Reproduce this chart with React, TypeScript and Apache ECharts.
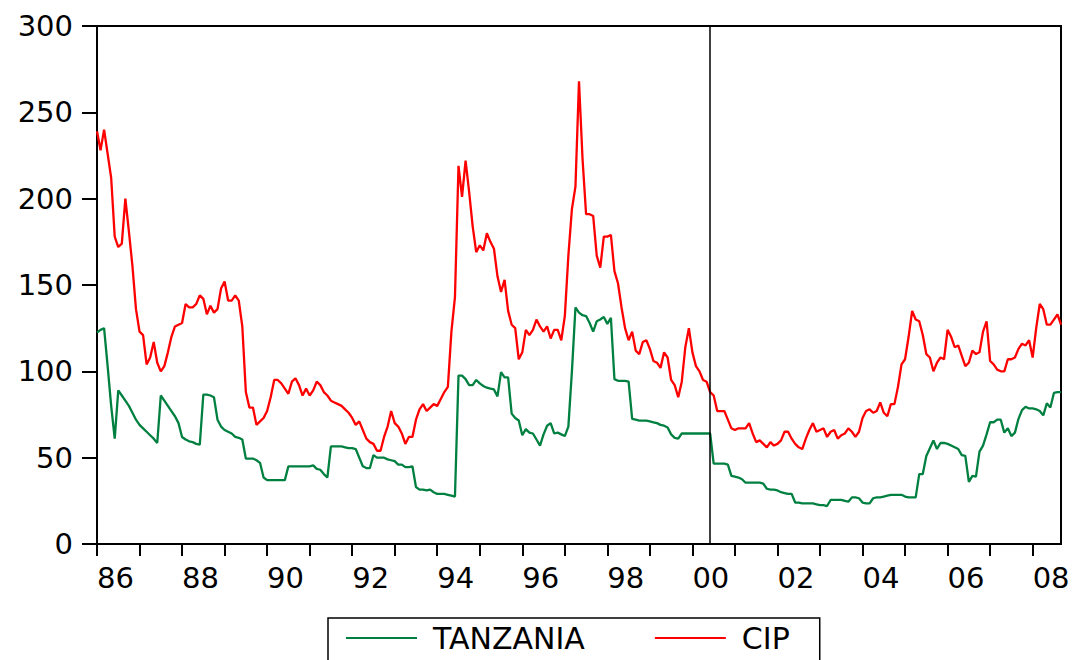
import React, { useEffect, useRef } from "react";
import * as echarts from "echarts";

const FONT = "'DejaVu Sans', 'Liberation Sans', Arial, sans-serif";

const startYear = 1986;
const monthCount = 273;
const months: string[] = Array.from(
  { length: monthCount },
  (_, i) => `${startYear + Math.floor(i / 12)}M${String((i % 12) + 1).padStart(2, "0")}`
);

const breakMonth = "2000M06";

const seriesNames = ["TANZANIA", "CIP"];

const tanzania: number[] = [
  122.5, 124, 125, 103, 80, 61, 89, 86, 83, 80, 76, 72,
  69, 67, 65, 63, 61, 58.5, 86, 83, 80, 77, 74, 70,
  62, 60.5, 59.5, 59, 58, 57.5, 86.5, 86.5, 86, 85, 72, 68,
  66, 65, 64, 62, 61.5, 60.5, 49.5, 49.5, 49.5, 48.5, 47, 38.5,
  37, 37, 37, 37, 37, 37, 45, 45, 45, 45, 45, 45,
  45, 45.5, 43.5, 43, 40.5, 38.5, 56.5, 56.5, 56.5, 56.5, 56, 55.5,
  55.5, 55, 50, 45, 44, 44, 51.5, 50, 50, 50, 49, 48.5,
  48, 46, 46, 44.5, 44.5, 45, 33, 31.5, 31.5, 31, 31.5, 30,
  29, 29, 29, 28.5, 28, 27.5, 97.5, 97.5, 95.5, 92, 92, 95,
  93, 91.5, 90.5, 90, 89.5, 85.5, 99.5, 96.5, 96.5, 75.5, 73, 71.5,
  63, 66.5, 64.5, 64, 60.5, 57, 63.5, 68.5, 70, 64, 64.5, 63.5,
  62.5, 68, 100, 137, 134, 132.5, 132, 128, 123, 129, 130, 131.5,
  127.5, 131, 95.5, 94.5, 94.5, 94.5, 94, 72.5, 72, 71.5, 71.5, 71.5,
  71, 70.5, 70, 69, 68.5, 67.5, 63.5, 61.5, 61, 64, 64, 64,
  64, 64, 64, 64, 64, 64, 46.5, 46.5, 46.5, 46.5, 46, 39.5,
  39, 38.5, 37.5, 35.5, 35.5, 35.5, 35.5, 35.5, 35, 32, 31.5, 31.5,
  31, 30, 29.5, 29, 29, 24, 24, 23.5, 23.5, 23.5, 23.5, 23,
  22.5, 22.5, 22, 25.5, 25.5, 25.5, 25.5, 25, 24.5, 27, 27, 26.5,
  24, 23.5, 23.5, 26.5, 27, 27, 27.5, 28, 28.5, 28.5, 28.5, 28.5,
  27.5, 27, 27, 27, 40.5, 40.5, 51, 55.5, 60, 55, 58.5, 58.5,
  58, 57, 56, 55, 51.5, 51, 36, 39.5, 39, 53.5, 57, 63.5,
  70.5, 70.5, 72, 72, 64.5, 67, 62.5, 64.5, 72.5, 77.5, 79.5, 78.5,
  78.5, 78, 77, 74.5, 81.5, 79, 87.5, 88, 88,
];

const cip: number[] = [
  239, 228, 240, 226, 212, 178, 172, 174, 200, 181, 161, 136,
  123, 121, 104, 108, 117, 105, 100, 103, 111, 120, 126, 127,
  128, 139, 137, 137, 139, 144, 142, 133, 138, 134, 136, 148,
  152, 141, 141, 144, 141, 126, 88, 79, 79, 69, 71, 73,
  77, 85, 95, 95, 93, 90, 87, 94, 96, 92, 86, 90,
  86, 89, 94, 92, 88, 86, 83, 82, 81, 80, 78, 76,
  73, 69, 71, 66, 61, 59, 58, 54, 54, 62, 68, 77,
  70, 68, 64, 58, 62, 62, 72, 78, 81, 77, 79, 81,
  80, 84, 88, 91, 123, 143, 219, 201, 222, 204, 184, 169,
  173, 170, 180, 175, 171, 155, 146, 153, 135, 127, 125, 107,
  111, 124, 121, 124, 130, 126, 123, 126, 119, 124, 124, 118,
  132, 167, 194, 207, 268, 223, 191, 191, 190, 167, 160, 178,
  178, 179, 158, 151, 137, 125, 118, 123, 112, 110, 117, 118,
  113, 106, 105, 102, 111, 108, 95, 92, 85, 94, 114, 125,
  111, 103, 100, 95, 94, 88, 86, 77, 77, 77, 72, 67,
  66, 67, 67, 67, 70, 64, 59, 60, 58, 56, 59, 57,
  58, 60, 65, 65, 61, 58, 56, 55, 61, 66, 70, 65,
  66, 67, 62, 65, 66, 61, 63, 64, 67, 65, 62, 65,
  73, 77, 78, 76, 77, 82, 76, 74, 81, 81, 91, 104,
  107, 120, 135, 130, 129, 121, 110, 108, 100, 105, 108, 107,
  124, 120, 114, 115, 109, 103, 105, 112, 110, 111, 123, 129,
  106, 104, 101, 100, 100, 107, 107, 108, 113, 116, 115, 118,
  108, 125, 139, 136, 127, 127, 130, 133, 127,
];

export default function App() {
  const ref = useRef<HTMLDivElement>(null);

  useEffect(() => {
    if (!ref.current) return;
    const chart = echarts.init(ref.current, null, { renderer: "svg" });
    chart.setOption({
      animation: false,
      backgroundColor: "#ffffff",
      grid: {
        left: 97,
        right: 14,
        top: 26,
        bottom: 116,
        show: true,
        borderColor: "#000",
        borderWidth: 2,
        backgroundColor: "transparent",
      },
      legend: {
        data: seriesNames,
        left: 328,
        top: 618,
        padding: [5, 30, 40, 18],
        itemGap: 70,
        itemWidth: 71,
        itemHeight: 2,
        icon: "rect",
        borderColor: "#000",
        borderWidth: 1.5,
        selectedMode: false,
        textStyle: {
          fontSize: 30,
          lineHeight: 28,
          fontFamily: FONT,
          color: "#000",
          padding: [0, 0, 0, 11],
        },
      },
      xAxis: {
        type: "category",
        data: months,
        boundaryGap: false,
        axisLine: { show: true, lineStyle: { color: "#000", width: 2 } },
        axisTick: {
          show: true,
          interval: (i: number) => i % 12 === 0,
          length: 12,
          lineStyle: { color: "#000", width: 2 },
        },
        axisLabel: {
          interval: (i: number) => i % 24 === 0,
          formatter: (v: string) => v.slice(2, 4),
          align: "left",
          margin: 19,
          fontSize: 29,
          fontFamily: FONT,
          color: "#000",
        },
        splitLine: { show: false },
      },
      yAxis: {
        type: "value",
        min: 0,
        max: 300,
        interval: 50,
        axisLine: { show: true, lineStyle: { color: "#000", width: 2 } },
        axisTick: { show: true, length: 15, lineStyle: { color: "#000", width: 2 } },
        axisLabel: {
          margin: 24,
          fontSize: 29,
          fontFamily: FONT,
          color: "#000",
        },
        splitLine: { show: false },
      },
      series: [
        {
          name: seriesNames[0],
          type: "line",
          data: tanzania,
          symbol: "none",
          showSymbol: false,
          lineStyle: { color: "#008040", width: 2.3 },
          itemStyle: { color: "#008040" },
          markLine: {
            silent: true,
            symbol: "none",
            label: { show: false },
            lineStyle: { color: "#000", width: 1.5, type: "solid" },
            data: [{ xAxis: breakMonth }],
          },
        },
        {
          name: seriesNames[1],
          type: "line",
          data: cip,
          symbol: "none",
          showSymbol: false,
          lineStyle: { color: "#ff0000", width: 2.3 },
          itemStyle: { color: "#ff0000" },
        },
      ],
    });
    return () => chart.dispose();
  }, []);

  return (
    <div
      ref={ref}
      style={{ position: "fixed", left: 0, top: 0, width: 1075, height: 660, background: "#fff" }}
    />
  );
}
